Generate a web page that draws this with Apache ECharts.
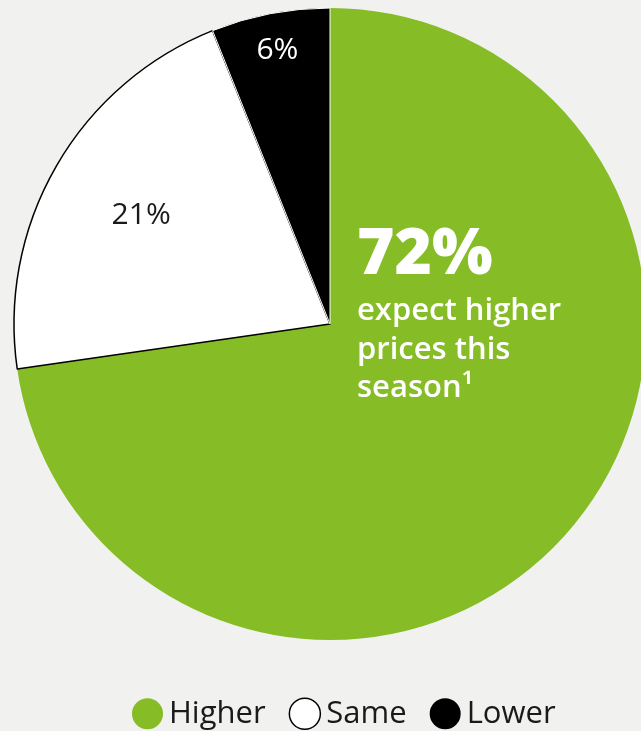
<!DOCTYPE html>
<html>
<head>
<meta charset="utf-8">
<script src="https://cdn.jsdelivr.net/npm/echarts@6/dist/echarts.min.js"></script>
<style>
  html, body { margin: 0; padding: 0; background: #f1f1f0; }
  #chart { width: 641px; height: 731px; }
</style>
</head>
<body>
<div id="chart"></div>
<script>
const categories = ['Higher', 'Same', 'Lower']
const values = [72, 21, 6]
const colors = ['#86bc25', '#ffffff', '#000000']
const labelColors = ['#ffffff', '#1a1a1a', '#ffffff']
// how far out (share of radius) each slice label sits
const labelRadius = [0, 0.69, 0.88]

const cx = 330
const cy = 324
const R = 316

const total = values.reduce((a, b) => a + b, 0)

const chart = echarts.init(document.getElementById('chart'))

chart.setOption({
  backgroundColor: '#f1f1f0',
  animation: false,
  textStyle: { fontFamily: 'Open Sans' },
  title: {
    left: 352,
    top: 215,
    text: '{big|72%}\n{txt|expect higher}\n{txt|prices this}\n{txt|season¹}',
    textStyle: {
      rich: {
        big: { fontSize: 64, fontWeight: 800, color: '#fff', lineHeight: 72, fontFamily: 'Open Sans' },
        txt: { fontSize: 31, fontWeight: 600, color: '#fff', lineHeight: 38.5, fontFamily: 'Open Sans' },
      },
    },
  },
  legend: {
    bottom: -4,
    left: 127,
    icon: 'circle',
    itemWidth: 31,
    itemHeight: 31,
    itemGap: 23,
    textStyle: { fontSize: 31, color: '#1a1a1a', padding: [0, 0, 0, 1] },
    data: categories.map((name, i) => ({
      name,
      itemStyle: { color: colors[i], borderColor: '#000', borderWidth: i === 1 ? 1.5 : 0 },
    })),
  },
  series: [
    {
      type: 'pie',
      center: [cx, cy],
      radius: [0, R],
      startAngle: 90,
      clockwise: true,
      silent: true,
      label: {
        show: true,
        position: 'inside',
        fontSize: 30,
        formatter: '{c}%',
      },
      labelLine: { show: false },
      labelLayout: (params) => {
        const i = params.dataIndex
        let start = 0
        for (let k = 0; k < i; k++) start += values[k]
        const mid = (start + values[i] / 2) / total * Math.PI * 2
        const f = labelRadius[i]
        return {
          x: cx + R * f * Math.sin(mid),
          y: cy - R * f * Math.cos(mid),
          align: 'center',
          verticalAlign: 'middle',
        }
      },
      data: categories.map((name, i) => ({
        name,
        value: values[i],
        itemStyle: {
          color: colors[i],
          borderColor: i === 1 ? '#000' : '#fff',
          borderWidth: i === 0 ? 0 : (i === 1 ? 1.5 : 1),
        },
        label: { show: i !== 0, color: labelColors[i] },
      })),
    },
  ],
})
</script>
</body>
</html>
